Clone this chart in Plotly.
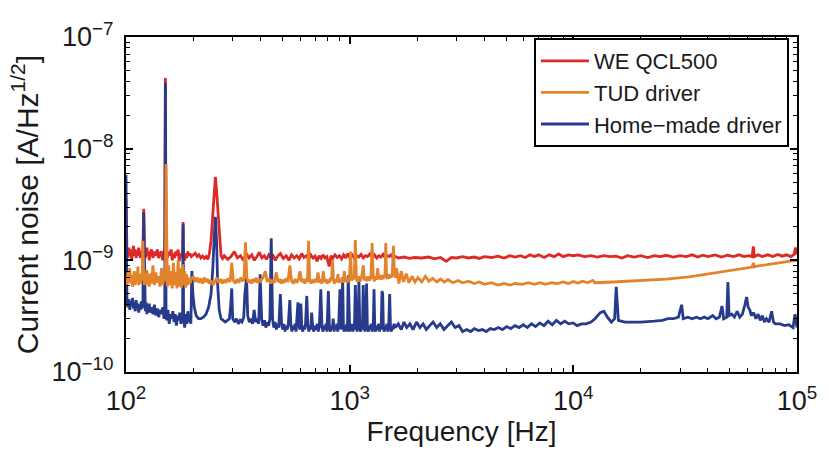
import plotly.graph_objects as go

# Current-noise spectral density, (frequency in Hz, noise in nA/Hz^1/2)
we_qcl500 = [
    (100, 3.5), (101, 1.2), (102, 1.05), (103, 1.3), (104, 1.1), (105, 1.25), (106, 1.0), (107, 1.2),
    (108, 1.35), (109, 1.1), (110, 1.25), (111, 1.05), (112, 1.2), (113, 1.1), (114, 1.3), (115, 1.15),
    (116, 1.05), (117, 1.2), (118, 1.1), (119, 1.25), (120, 2.9), (121, 1.2), (122, 1.05), (123, 1.15),
    (124, 1.3), (125, 1.1), (126, 1.2), (127, 1.0), (128, 1.15), (130, 1.25), (132, 1.05), (134, 1.2),
    (136, 1.1), (138, 1.25), (140, 1.05), (142, 1.15), (144, 1.2), (146, 1.0), (148, 1.15), (149, 1.3),
    (150, 43), (151, 1.2), (153, 1.05), (155, 1.2), (157, 1.1), (159, 1.25), (161, 1.0), (163, 1.15),
    (165, 1.05), (167, 1.2), (169, 1.1), (171, 1.25), (173, 0.98), (175, 1.15), (177, 1.05), (179, 1.2),
    (180, 2.2), (181, 1.1), (183, 1.0), (185, 1.15), (187, 1.05), (189, 1.2), (191, 1.1), (193, 1.15),
    (196, 1.08), (200, 1.12), (204, 1.16), (208, 1.08), (212, 1.12), (216, 1.05), (220, 1.09), (224, 1.04),
    (228, 1.08), (232, 1.02), (236, 1.15), (240, 1.5), (244, 2.4), (248, 4.0), (251, 5.6), (254, 4.2),
    (258, 2.5), (262, 1.5), (266, 1.1), (270, 1.04), (275, 1.1), (285, 1.02), (295, 1.08), (305, 1.2),
    (315, 1.05), (325, 1.1), (335, 1.0), (345, 1.15), (355, 1.05), (365, 1.12), (375, 1.0), (385, 1.08),
    (395, 1.18), (405, 1.05), (415, 1.1), (425, 1.02), (435, 1.12), (445, 1.06), (455, 1.1), (465, 1.0),
    (475, 1.08), (490, 1.15), (505, 1.04), (520, 1.1), (535, 1.0), (550, 1.12), (565, 1.05), (580, 1.1),
    (595, 1.03), (610, 1.15), (625, 1.06), (640, 1.1), (655, 1.02), (670, 1.12), (685, 1.05), (700, 1.09),
    (715, 0.98), (730, 1.1), (745, 1.04), (760, 1.12), (775, 1.05), (790, 1.08), (810, 0.88), (825, 1.1),
    (840, 1.04), (860, 1.12), (880, 1.06), (900, 1.1), (920, 1.03), (940, 1.12), (960, 1.05), (980, 1.15),
    (1000, 1.06), (1025, 1.12), (1050, 1.04), (1075, 1.1), (1100, 1.07), (1125, 1.13), (1150, 1.05),
    (1175, 1.1), (1200, 1.08), (1230, 1.14), (1260, 1.06), (1290, 1.12), (1320, 1.05), (1350, 1.1),
    (1380, 1.07), (1410, 1.13), (1440, 1.06), (1470, 1.1), (1500, 1.08), (1530, 1.12), (1560, 1.06),
    (1600, 1.08), (1650, 1.05), (1750, 1.07), (1850, 1.04), (1950, 1.06), (2100, 1.05), (2250, 1.07),
    (2400, 1.03), (2550, 1.06), (2700, 0.98), (2850, 1.06), (3000, 1.05), (3200, 1.08), (3400, 1.05),
    (3600, 1.07), (3800, 1.04), (4000, 1.08), (4300, 1.06), (4600, 1.09), (4900, 1.05), (5200, 1.1),
    (5500, 1.07), (5800, 1.1), (6100, 1.06), (6400, 1.12), (6700, 1.08), (7000, 1.12), (7400, 1.06),
    (7800, 1.12), (8200, 1.08), (8600, 1.14), (9000, 1.08), (9500, 1.12), (10000, 1.1), (10500, 1.12),
    (11200, 1.08), (12000, 1.1), (12800, 1.07), (13700, 1.1), (14600, 1.08), (15500, 1.09), (16500, 1.05),
    (17500, 1.1), (18700, 1.07), (20000, 1.1), (21500, 1.06), (23000, 1.1), (24500, 1.08), (26000, 1.11),
    (28000, 1.07), (30000, 1.1), (32000, 1.08), (34000, 1.12), (36000, 1.07), (38000, 1.11), (40000, 1.08),
    (43000, 1.12), (46000, 1.07), (49000, 1.11), (52000, 1.08), (55000, 1.12), (58000, 1.08), (61000, 1.1),
    (63000, 1.08), (63800, 1.33), (64500, 1.08), (67000, 1.12), (70000, 1.08), (74000, 1.12), (78000, 1.08),
    (82000, 1.13), (86000, 1.09), (90000, 1.12), (94000, 1.08), (97000, 1.13), (98500, 1.3), (100000, 1.12),
]

tud_driver = [
    (100, 0.72), (101, 0.6), (102, 0.78), (103, 0.63), (104, 0.85), (105, 0.62), (106, 0.74), (107, 0.58),
    (108, 0.7), (109, 0.8), (110, 0.6), (111, 0.72), (112, 0.65), (113, 0.88), (114, 0.6), (115, 0.7),
    (116, 0.62), (117, 0.76), (118, 0.66), (119, 1.5), (120, 0.7), (121, 0.6), (122, 0.75), (123, 0.64),
    (124, 0.82), (125, 0.6), (126, 0.7), (127, 0.58), (128, 0.76), (130, 0.62), (132, 0.9), (134, 0.6),
    (136, 0.78), (138, 0.63), (140, 0.72), (142, 0.58), (144, 0.85), (146, 0.6), (148, 0.74), (150, 0.65),
    (151, 7.3), (152, 0.7), (153, 0.58), (155, 0.9), (157, 0.6), (159, 0.8), (161, 0.56), (163, 0.95),
    (165, 0.6), (167, 0.78), (169, 0.56), (171, 1.0), (173, 0.58), (175, 0.85), (177, 0.57), (179, 0.92),
    (181, 0.6), (183, 0.8), (185, 0.57), (187, 0.75), (189, 0.6), (191, 0.7), (193, 0.62), (196, 0.68),
    (200, 0.72), (204, 0.64), (208, 0.7), (212, 0.63), (216, 0.69), (220, 0.62), (224, 0.7), (228, 0.64),
    (232, 0.68), (236, 0.62), (240, 0.66), (245, 0.6), (250, 0.64), (255, 0.7), (260, 0.63), (265, 0.68),
    (270, 0.62), (275, 0.67), (280, 0.63), (286, 0.69), (292, 0.64), (297, 0.95), (302, 0.66), (308, 0.62),
    (314, 0.68), (320, 0.63), (326, 0.7), (332, 0.65), (337, 0.68), (342, 1.45), (347, 0.7), (352, 0.63),
    (358, 0.67), (364, 0.62), (370, 0.68), (376, 0.64), (382, 0.7), (388, 0.63), (394, 0.68), (400, 0.65),
    (410, 0.7), (420, 0.8), (428, 0.64), (436, 0.69), (444, 0.62), (452, 0.67), (460, 0.63), (470, 0.78),
    (478, 0.64), (486, 0.68), (494, 0.62), (502, 0.67), (510, 0.63), (520, 0.69), (530, 0.64), (540, 0.9),
    (550, 0.65), (560, 0.62), (570, 0.68), (580, 0.63), (590, 0.67), (600, 0.8), (610, 0.64), (620, 0.68),
    (630, 0.62), (640, 0.67), (648, 0.66), (655, 1.5), (662, 0.68), (672, 0.62), (682, 0.67), (692, 0.63),
    (702, 0.68), (712, 0.64), (722, 0.78), (732, 0.63), (742, 0.68), (752, 0.62), (762, 0.8), (772, 0.64),
    (782, 0.68), (792, 0.62), (802, 0.67), (812, 0.63), (822, 0.7), (830, 0.66), (838, 1.0), (846, 0.67),
    (856, 0.62), (866, 0.68), (876, 0.64), (886, 0.75), (896, 0.63), (906, 0.68), (916, 0.64), (926, 0.7),
    (936, 0.63), (946, 0.8), (956, 0.64), (966, 0.69), (976, 0.63), (986, 0.7), (996, 0.65), (1010, 1.2),
    (1020, 0.66), (1035, 0.7), (1048, 0.68), (1060, 1.52), (1072, 0.68), (1085, 0.64), (1100, 0.72),
    (1115, 0.65), (1130, 0.7), (1150, 0.9), (1165, 0.66), (1180, 0.71), (1195, 0.65), (1210, 0.72),
    (1225, 0.66), (1245, 0.7), (1260, 1.43), (1275, 0.7), (1290, 0.65), (1305, 0.72), (1320, 0.67),
    (1335, 0.85), (1350, 0.68), (1365, 0.73), (1380, 0.67), (1395, 0.74), (1410, 0.68), (1425, 0.72),
    (1438, 0.7), (1450, 1.43), (1462, 0.72), (1475, 0.68), (1490, 0.75), (1505, 0.69), (1520, 0.74),
    (1535, 0.7), (1550, 0.76), (1570, 1.35), (1585, 0.74), (1600, 0.7), (1620, 0.85), (1660, 0.62),
    (1700, 0.8), (1740, 0.64), (1790, 0.76), (1840, 0.63), (1900, 0.72), (1960, 0.64), (2020, 0.7),
    (2100, 0.64), (2180, 0.72), (2260, 0.65), (2350, 0.69), (2450, 0.64), (2550, 0.68), (2650, 0.64),
    (2750, 0.67), (2900, 0.63), (3050, 0.66), (3200, 0.63), (3400, 0.65), (3600, 0.62), (3800, 0.64),
    (4000, 0.61), (4300, 0.63), (4600, 0.6), (4900, 0.62), (5200, 0.6), (5500, 0.62), (5900, 0.61),
    (6300, 0.63), (6700, 0.61), (7100, 0.63), (7500, 0.61), (8000, 0.63), (8500, 0.62), (9000, 0.64),
    (9500, 0.62), (10000, 0.645), (10500, 0.625), (11000, 0.65), (11600, 0.63), (12200, 0.66), (12500, 0.63),
    (15000, 0.64), (20000, 0.66), (26000, 0.68), (33000, 0.71), (36000, 0.73), (38000, 0.745), (40000, 0.76),
    (43000, 0.775), (46000, 0.79), (49000, 0.81), (52000, 0.82), (55000, 0.84), (58000, 0.855), (61000, 0.86),
    (63000, 0.87), (63800, 0.95), (64500, 0.875), (67000, 0.89), (70000, 0.9), (74000, 0.92), (78000, 0.935),
    (82000, 0.95), (86000, 0.96), (90000, 0.975), (94000, 0.985), (97000, 0.995), (100000, 1.0),
]

home_made_driver = [
    (100, 5.8), (101, 0.42), (102, 0.38), (103, 0.45), (104, 0.36), (105, 0.43), (106, 0.39), (107, 0.46),
    (108, 0.37), (109, 0.42), (110, 0.35), (111, 0.44), (112, 0.38), (113, 0.41), (114, 0.34), (115, 0.4),
    (116, 0.36), (117, 0.43), (118, 0.37), (119, 0.4), (120, 2.7), (121, 0.4), (122, 0.35), (123, 0.42),
    (124, 0.33), (125, 0.39), (126, 0.36), (127, 0.41), (128, 0.34), (130, 0.38), (132, 0.33), (134, 0.4),
    (136, 0.32), (138, 0.37), (140, 0.31), (142, 0.36), (144, 0.33), (146, 0.38), (148, 0.3), (149, 0.35),
    (150, 39), (151, 0.34), (152, 0.29), (154, 0.36), (156, 0.27), (158, 0.33), (160, 0.3), (162, 0.35),
    (164, 0.28), (166, 0.33), (168, 0.26), (170, 0.32), (172, 0.29), (174, 0.34), (176, 0.27), (178, 0.31),
    (179, 0.3), (180, 2.1), (181, 0.3), (183, 0.25), (185, 0.33), (187, 0.27), (189, 0.35), (191, 0.28),
    (193, 0.31), (195, 0.27), (197, 0.8), (199, 0.5), (202, 0.38), (206, 0.32), (211, 0.3), (216, 0.3),
    (222, 0.31), (228, 0.33), (234, 0.38), (240, 0.5), (244, 0.8), (248, 1.6), (251, 2.45), (254, 1.5),
    (257, 0.6), (261, 0.36), (266, 0.3), (272, 0.29), (278, 0.28), (284, 0.29), (290, 0.3), (294, 0.4),
    (297, 0.56), (300, 0.3), (306, 0.28), (312, 0.3), (318, 0.27), (324, 0.29), (330, 0.28), (336, 0.31),
    (340, 0.5), (346, 0.7), (350, 0.32), (356, 0.28), (362, 0.3), (368, 0.27), (374, 0.36), (380, 0.28),
    (386, 0.3), (392, 0.27), (398, 0.75), (404, 0.3), (410, 0.26), (416, 0.29), (422, 0.25), (428, 0.28),
    (434, 0.26), (440, 0.3), (446, 1.58), (452, 0.3), (458, 0.25), (464, 0.28), (470, 0.24), (476, 0.27),
    (482, 0.25), (490, 0.5), (496, 0.27), (502, 0.24), (508, 0.27), (514, 0.23), (520, 0.26), (526, 0.24),
    (532, 0.27), (540, 0.44), (546, 0.26), (552, 0.23), (558, 0.26), (564, 0.24), (570, 0.27), (576, 0.23),
    (587, 0.42), (593, 0.26), (599, 0.24), (605, 0.41), (611, 0.25), (617, 0.23), (623, 0.26), (629, 0.24),
    (635, 0.27), (643, 0.48), (650, 0.26), (657, 0.23), (664, 0.26), (670, 0.24), (676, 0.34), (684, 0.25),
    (692, 0.23), (700, 0.26), (708, 0.24), (716, 0.27), (724, 0.23), (732, 0.26), (743, 0.55), (752, 0.25),
    (760, 0.23), (768, 0.26), (776, 0.24), (784, 0.27), (792, 0.23), (803, 0.53), (812, 0.25), (820, 0.23),
    (828, 0.26), (836, 0.24), (844, 0.3), (852, 0.23), (860, 0.26), (868, 0.24), (876, 0.27), (884, 0.23),
    (893, 0.26), (905, 0.55), (915, 0.24), (922, 0.27), (930, 0.7), (938, 0.25), (946, 0.23), (954, 0.26),
    (962, 0.24), (970, 0.27), (977, 0.23), (985, 0.73), (993, 0.26), (1001, 0.23), (1010, 0.26), (1018, 0.24),
    (1026, 0.27), (1034, 0.23), (1042, 0.26), (1050, 0.24), (1060, 0.6), (1070, 0.26), (1080, 0.23),
    (1090, 0.27), (1100, 0.66), (1110, 0.25), (1120, 0.23), (1130, 0.26), (1140, 0.24), (1150, 0.6),
    (1160, 0.26), (1170, 0.23), (1180, 0.27), (1190, 0.62), (1200, 0.25), (1212, 0.23), (1224, 0.26),
    (1236, 0.24), (1248, 0.27), (1260, 0.23), (1275, 0.26), (1285, 0.55), (1295, 0.25), (1307, 0.23),
    (1320, 0.26), (1333, 0.24), (1346, 0.27), (1358, 0.23), (1370, 0.26), (1383, 0.24), (1395, 0.53),
    (1405, 0.5), (1415, 0.25), (1428, 0.23), (1440, 0.26), (1453, 0.24), (1466, 0.27), (1480, 0.23),
    (1495, 0.26), (1510, 0.5), (1522, 0.25), (1535, 0.23), (1550, 0.26), (1565, 0.24), (1580, 0.27),
    (1600, 0.25), (1650, 0.27), (1700, 0.24), (1750, 0.28), (1800, 0.25), (1860, 0.27), (1920, 0.24),
    (1990, 0.28), (2060, 0.25), (2130, 0.27), (2200, 0.24), (2280, 0.26), (2360, 0.28), (2450, 0.25),
    (2540, 0.27), (2640, 0.24), (2740, 0.26), (2850, 0.28), (2960, 0.25), (3080, 0.26), (3200, 0.23),
    (3330, 0.24), (3470, 0.23), (3610, 0.245), (3760, 0.235), (3920, 0.24), (4080, 0.23), (4250, 0.245),
    (4430, 0.24), (4620, 0.25), (4820, 0.24), (5030, 0.255), (5250, 0.245), (5480, 0.26), (5720, 0.25),
    (5970, 0.265), (6230, 0.25), (6500, 0.27), (6780, 0.255), (7080, 0.275), (7390, 0.26), (7710, 0.285),
    (8050, 0.265), (8400, 0.29), (8770, 0.27), (9150, 0.285), (9550, 0.27), (9970, 0.275), (10400, 0.26),
    (10900, 0.27), (11400, 0.27), (12000, 0.28), (12500, 0.3), (13200, 0.34), (13700, 0.35), (14200, 0.31),
    (14800, 0.28), (15300, 0.3), (15550, 0.58), (15900, 0.29), (17000, 0.28), (20000, 0.28), (23000, 0.285),
    (25000, 0.29), (26500, 0.3), (28000, 0.3), (29500, 0.31), (30500, 0.4), (31000, 0.3), (32500, 0.31),
    (34000, 0.3), (35500, 0.31), (37000, 0.3), (38500, 0.31), (40000, 0.3), (42000, 0.32), (43500, 0.3),
    (45000, 0.31), (46200, 0.39), (47000, 0.3), (48500, 0.31), (49100, 0.64), (49700, 0.32), (51000, 0.33),
    (52500, 0.31), (54000, 0.35), (55500, 0.31), (57000, 0.33), (58500, 0.4), (59500, 0.47), (60500, 0.38),
    (61500, 0.36), (62500, 0.32), (64000, 0.34), (65500, 0.3), (67000, 0.33), (68500, 0.29), (70000, 0.32),
    (71500, 0.28), (73000, 0.3), (75000, 0.28), (77000, 0.35), (78500, 0.28), (80000, 0.27), (84000, 0.27),
    (88000, 0.26), (92000, 0.265), (96000, 0.25), (98000, 0.33), (100000, 0.25),
]

series_names = ["WE QCL500", "TUD driver", "Home\u2212made driver"]
series_colors = ["#de2a26", "#e3832b", "#283a8c"]
series_data = [we_qcl500, tud_driver, home_made_driver]
y_tick_exponents = [-10, -9, -8, -7]
x_tick_exponents = [2, 3, 4, 5]

NANO = 1e-9  # nA/Hz^1/2 -> A/Hz^1/2

# draw order: red, blue, then orange on top; legend keeps red / orange / blue
draw_order = [0, 2, 1]
fig = go.Figure()
for i in draw_order:
    data = series_data[i]
    fig.add_trace(go.Scatter(
        x=[f for f, _ in data],
        y=[v * NANO for _, v in data],
        mode="lines",
        name=series_names[i],
        legendrank=i + 1,
        line=dict(color=series_colors[i], width=2.8),
    ))

minor_x = [m * 10 ** e for e in (2, 3, 4) for m in range(2, 10)]
minor_y = [m * 10.0 ** e for e in (-10, -9, -8) for m in range(2, 10)]

axis_common = dict(
    type="log",
    showline=True,
    linecolor="black",
    linewidth=2,
    mirror="ticks",
    ticks="inside",
    ticklen=7,
    tickwidth=1.5,
    tickcolor="black",
    showgrid=False,
    zeroline=False,
    tickfont=dict(size=27),
)

fig.update_xaxes(
    **axis_common,
    range=[2, 5],
    tickmode="array",
    tickvals=[10 ** e for e in x_tick_exponents],
    ticktext=[f"10<sup>{e}</sup>" for e in x_tick_exponents],
    minor=dict(tickmode="array", tickvals=minor_x, ticks="inside", ticklen=4, tickwidth=1.2, tickcolor="black"),
    title=dict(text="Frequency [Hz]", standoff=2, font=dict(size=28)),
    ticklabelstandoff=4,
)
fig.update_yaxes(
    **axis_common,
    range=[-10, -7],
    tickmode="array",
    tickvals=[10.0 ** e for e in y_tick_exponents],
    ticktext=[f"10<sup>\u2212{-e}</sup>" for e in y_tick_exponents],
    minor=dict(tickmode="array", tickvals=minor_y, ticks="inside", ticklen=4, tickwidth=1.2, tickcolor="black"),
    title=dict(text="Current noise [A/Hz<sup>1/2</sup>]", standoff=4, font=dict(size=30)),
    ticklabelstandoff=5,
)

fig.update_layout(
    width=829,
    height=451,
    margin=dict(l=126, r=24, t=37, b=79),
    paper_bgcolor="white",
    plot_bgcolor="white",
    font=dict(family="Liberation Sans, Arial, sans-serif", size=22, color="#1a1a1a"),
    legend=dict(
        x=0.988, xanchor="right", y=0.997, yanchor="top",
        bgcolor="white", bordercolor="black", borderwidth=2,
        font=dict(size=22), itemwidth=48, tracegroupgap=0,
    ),
)

fig.write_html("out.html")
